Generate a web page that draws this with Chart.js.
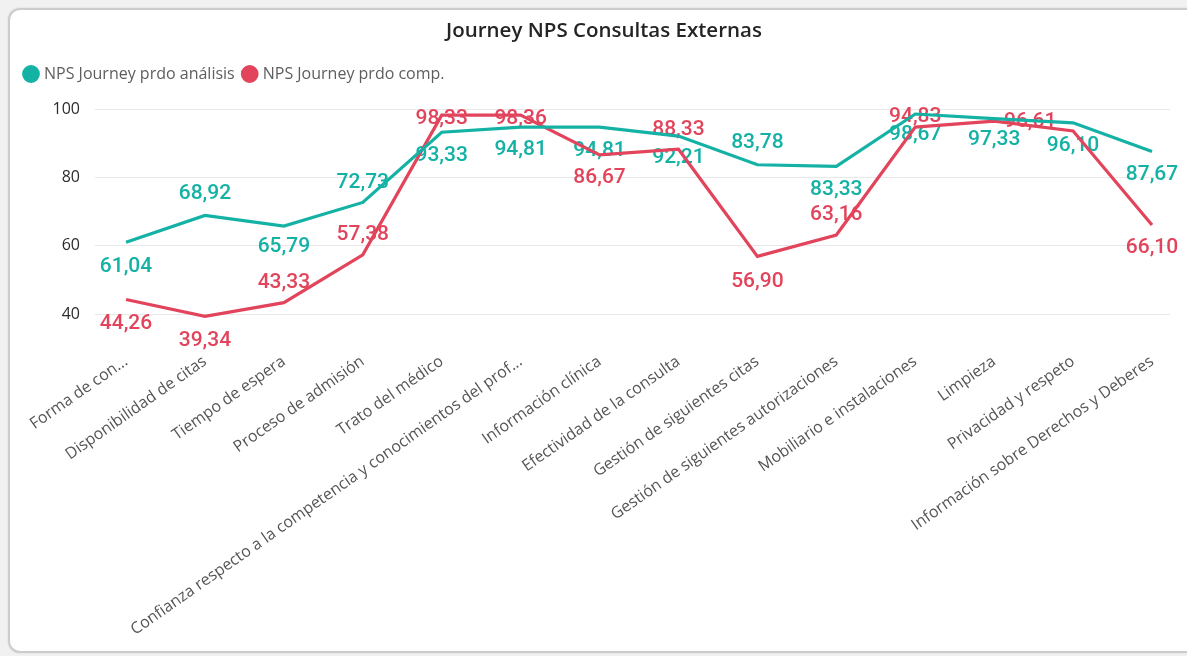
<!DOCTYPE html>
<html><head><meta charset="utf-8">
<script src="https://cdn.jsdelivr.net/npm/chart.js@4/dist/chart.umd.min.js"></script>
<style>
html,body{margin:0;padding:0;background:#f1f1f1;width:1187px;height:656px;overflow:hidden;}
#card{position:absolute;left:8px;top:8px;width:1192px;height:645px;background:#fff;border:2px solid #cccccc;border-radius:12px;box-sizing:border-box;box-shadow:0 0 2px rgba(0,0,0,0.12);}
#wrap{position:absolute;left:0;top:0;width:1187px;height:656px;}
</style></head><body>
<div id="card"></div>
<div id="wrap"><canvas id="c" width="1187" height="656"></canvas></div>
<script>
const chartTitle = 'Journey NPS Consultas Externas';
const categories = [
  'Forma de con...',
  'Disponibilidad de citas',
  'Tiempo de espera',
  'Proceso de admisión',
  'Trato del médico',
  'Confianza respecto a la competencia y conocimientos del prof...',
  'Información clínica',
  'Efectividad de la consulta',
  'Gestión de siguientes citas',
  'Gestión de siguientes autorizaciones',
  'Mobiliario e instalaciones',
  'Limpieza',
  'Privacidad y respeto',
  'Información sobre Derechos y Deberes'
];
const seriesNames = ['NPS Journey prdo análisis', 'NPS Journey prdo comp.'];
const analisisValues = [61.04, 68.92, 65.79, 72.73, 93.33, 94.81, 94.81, 92.21, 83.78, 83.33, 98.67, 97.33, 96.10, 87.67];
const compValues = [44.26, 39.34, 43.33, 57.38, 98.33, 98.36, 86.67, 88.33, 56.90, 63.16, 94.83, 96.61, 93.70, 66.10];
const yTickValues = [40, 60, 80, 100];

// label placement (style, not data): vertical/horizontal offsets in px, null = hidden
const analisisLabelDy = [24, -22, 21, -20, 24, 23, 24, 22, -22, 23, 21, 21, 23, 23];
const compLabelDy = [24, 24, -20, -20, 4, 4, 23, -20, 25, -20, -10, 1, null, 23];
const compLabelDx = [0, 0, 0, 0, 0, 0, 0, 0, 0, 0, 0, 36, 0, 0];

const TEAL = '#14B1A5';
const RED = '#E2445C';

const titlePlugin = {
  id: 'cardTitle',
  afterDraw(chart) {
    const ctx = chart.ctx;
    ctx.save();
    ctx.font = '600 20.5px "Open Sans"';
    ctx.fillStyle = '#252423';
    ctx.textAlign = 'center';
    ctx.textBaseline = 'middle';
    ctx.fillText(chartTitle, 604, 31);
    ctx.restore();
  }
};

const valueLabels = {
  id: 'valueLabels',
  beforeDatasetsDraw(chart) {
    const ctx = chart.ctx;
    const specs = [
      {vals: analisisValues, dy: analisisLabelDy, dx: null, color: TEAL},
      {vals: compValues, dy: compLabelDy, dx: compLabelDx, color: RED}
    ];
    ctx.save();
    ctx.font = '500 21px Roboto';
    ctx.textAlign = 'center';
    ctx.textBaseline = 'middle';
    specs.forEach((s, d) => {
      const meta = chart.getDatasetMeta(d);
      ctx.fillStyle = s.color;
      meta.data.forEach((pt, i) => {
        if (s.dy[i] === null) return;
        const txt = s.vals[i].toFixed(2).replace('.', ',');
        ctx.fillText(txt, pt.x + (s.dx ? s.dx[i] : 0), pt.y + s.dy[i]);
      });
    });
    ctx.restore();
  }
};

new Chart(document.getElementById('c'), {
  type: 'line',
  data: {
    datasets: [
      {label: seriesNames[0], data: analisisValues.map((v, i) => ({x: i, y: v})), borderColor: TEAL, backgroundColor: TEAL, borderWidth: 3.2, pointRadius: 0, tension: 0},
      {label: seriesNames[1], data: compValues.map((v, i) => ({x: i, y: v})), borderColor: RED, backgroundColor: RED, borderWidth: 3.2, pointRadius: 0, tension: 0}
    ]
  },
  options: {
    responsive: false,
    animation: false,
    devicePixelRatio: 1,
    layout: {padding: {left: 16, right: 17, top: 56, bottom: 0}},
    plugins: {
      title: {display: false},
      tooltip: {enabled: false},
      legend: {
        display: true,
        position: 'top',
        align: 'start',
        labels: {
          usePointStyle: true,
          pointStyle: 'circle',
          boxWidth: 10,
          boxHeight: 10.3,
          padding: 10,
          color: '#605E5C',
          font: {family: '"Open Sans"', size: 16}
        }
      }
    },
    scales: {
      x: {
        type: 'linear',
        min: -0.393,
        max: 13.228,
        afterBuildTicks(s) { s.ticks = categories.map((c, i) => ({value: i})); },
        afterFit(s) { s.height = 318; },
        grid: {display: false},
        border: {display: false},
        ticks: {
          autoSkip: false,
          maxRotation: 35,
          minRotation: 35,
          padding: 6,
          color: '#555555',
          font: {family: '"Open Sans"', size: 16},
          callback: (v, i) => categories[i]
        }
      },
      y: {
        min: 32.96,
        max: 105.13,
        afterBuildTicks(s) { s.ticks = yTickValues.map(v => ({value: v})); },
        afterFit(s) { s.width = 79; },
        grid: {color: '#e8e8e8', drawTicks: false, lineWidth: 1},
        border: {display: false},
        ticks: {padding: 15, color: '#2b2b2b', font: {family: '"Open Sans"', size: 16}}
      }
    }
  },
  plugins: [titlePlugin, valueLabels]
});
</script>
</body></html>
